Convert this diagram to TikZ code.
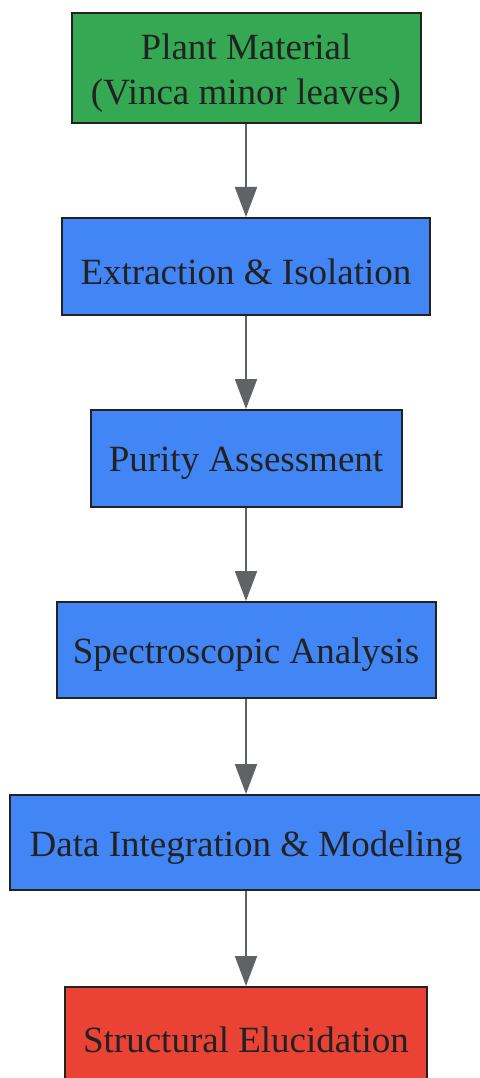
\documentclass[tikz,border=0pt]{standalone}
\usepackage{fontspec}
\setmainfont{Liberation Serif}
\usetikzlibrary{arrows.meta}
\definecolor{gfill}{HTML}{34A853}
\definecolor{bfill}{HTML}{4285F4}
\definecolor{rfill}{HTML}{EA4335}
\definecolor{edge}{HTML}{222222}
\definecolor{arrowc}{HTML}{5F6368}
\begin{document}
\begin{tikzpicture}[x=1pt,y=-1pt,
  stepbox/.style={draw=edge, line width=2pt, rectangle, inner sep=0pt},
  steptext/.style={inner sep=0pt, text=edge, font=\fontsize{37}{45}\selectfont, align=center, yshift=-5pt},
  flow/.style={draw=arrowc, line width=2pt, -{Triangle[length=30pt,width=22pt]}}]
\useasboundingbox (0,0) rectangle (479,1078);
\fill[white] (0,0) rectangle (479,1078);
\node[stepbox, fill=gfill, minimum width=349pt, minimum height=110pt] (a) at (246,68) {};
\node[stepbox, fill=bfill, minimum width=368pt, minimum height=97pt] (b) at (246,266.5) {};
\node[stepbox, fill=bfill, minimum width=311pt, minimum height=97pt] (c) at (246,458.5) {};
\node[stepbox, fill=bfill, minimum width=379pt, minimum height=96pt] (d) at (246,650) {};
\node[stepbox, fill=bfill, minimum width=472pt, minimum height=95pt] (e) at (246,842.5) {};
\node[stepbox, fill=rfill, minimum width=362pt, minimum height=96pt] (f) at (246,1035) {};
\node[steptext] (ta) at (a.center) {Plant Material\\(Vinca minor leaves)};
\node[steptext] (tb) at (b.center) {Extraction \& Isolation};
\node[steptext] (tc) at (c.center) {Purity Assessment};
\node[steptext] (td) at (d.center) {Spectroscopic Analysis};
\node[steptext] (te) at (e.center) {Data Integration \& Modeling};
\node[steptext] (tf) at (f.center) {Structural Elucidation};
\draw[flow] (a.south) -- (b.north);
\draw[flow] (b.south) -- (c.north);
\draw[flow] (c.south) -- (d.north);
\draw[flow] (d.south) -- (e.north);
\draw[flow] (e.south) -- (f.north);
\end{tikzpicture}
\end{document}
